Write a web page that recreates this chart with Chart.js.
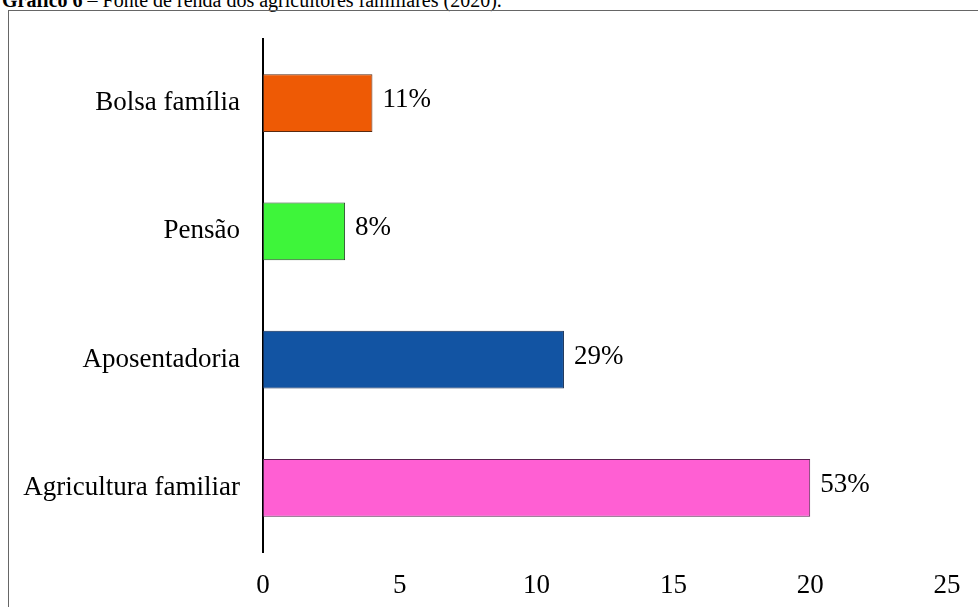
<!DOCTYPE html>
<html>
<head>
<meta charset="utf-8">
<script src="https://cdn.jsdelivr.net/npm/chart.js@4"></script>
<style>
    body { margin: 0; background: #fff; overflow: hidden; }
    #title {
        position: absolute; left: 2px; top: -10px;
        font-family: "Liberation Serif", serif; font-size: 20px; line-height: 20px;
        color: #000; white-space: nowrap;
    }
    #frame {
        position: absolute; left: 8px; top: 10px; width: 1000px; height: 700px;
        border: 1px solid #666;
    }
    #chartBox { position: absolute; left: 0; top: 0; width: 978px; height: 607px; }
</style>
</head>
<body>
<div id="title"><b>Gráfico 6</b> – Fonte de renda dos agricultores familiares (2020).</div>
<div id="frame"></div>
<div id="chartBox"><canvas id="rendaChart" width="978" height="607"></canvas></div>
<script>
// Dados do gráfico
const categorias = ['Bolsa família', 'Pensão', 'Aposentadoria', 'Agricultura familiar'];
const valores = [4, 3, 11, 20];
const percentuais = ['11%', '8%', '29%', '53%'];
const coresBarras = ['#ee5a05', '#3ef53a', '#1254a3', '#ff5fd3'];
const coresBordas = ['#5a2a10', '#2a4a2a', '#102a50', '#5a2050'];
const ticksX = [0, 5, 10, 15, 20, 25];

const fonte = 'Liberation Serif';
const tamanho = 27;

// Rótulos de percentual ao lado das barras
const rotulosPlugin = {
    id: 'rotulos',
    afterDatasetsDraw(chart) {
        const ctx = chart.ctx;
        const meta = chart.getDatasetMeta(0);
        ctx.save();
        ctx.font = tamanho + 'px "' + fonte + '"';
        ctx.fillStyle = '#000';
        ctx.textAlign = 'left';
        ctx.textBaseline = 'middle';
        meta.data.forEach((bar, i) => {
            ctx.fillText(percentuais[i], bar.x + 10, bar.y - 3);
        });
        ctx.restore();
    }
};

const ctx = document.getElementById('rendaChart').getContext('2d');
const chart = new Chart(ctx, {
    type: 'bar',
    data: {
        labels: categorias,
        datasets: [{
            data: valores,
            backgroundColor: coresBarras,
            borderColor: coresBordas,
            borderWidth: 1,
            borderSkipped: false,
            categoryPercentage: 1,
            barPercentage: 0.45
        }]
    },
    options: {
        indexAxis: 'y',
        responsive: false,
        animation: false,
        layout: { padding: { top: 39, right: 31, left: 0, bottom: 0 } },
        scales: {
            x: {
                min: 0,
                max: 25,
                afterBuildTicks: scale => { scale.ticks = ticksX.map(v => ({ value: v })); },
                afterFit: scale => { scale.height = 55; },
                grid: { display: false },
                border: { display: false },
                ticks: {
                    color: '#000',
                    padding: 10,
                    maxRotation: 0,
                    font: { family: fonte, size: tamanho }
                }
            },
            y: {
                afterFit: scale => { scale.width = 263; },
                grid: { display: false },
                border: { display: true, color: '#000', width: 2 },
                ticks: {
                    color: '#000',
                    padding: 15,
                    font: { family: fonte, size: tamanho }
                }
            }
        },
        plugins: {
            legend: { display: false },
            tooltip: { enabled: false }
        }
    },
    plugins: [rotulosPlugin]
});
</script>
</body>
</html>
